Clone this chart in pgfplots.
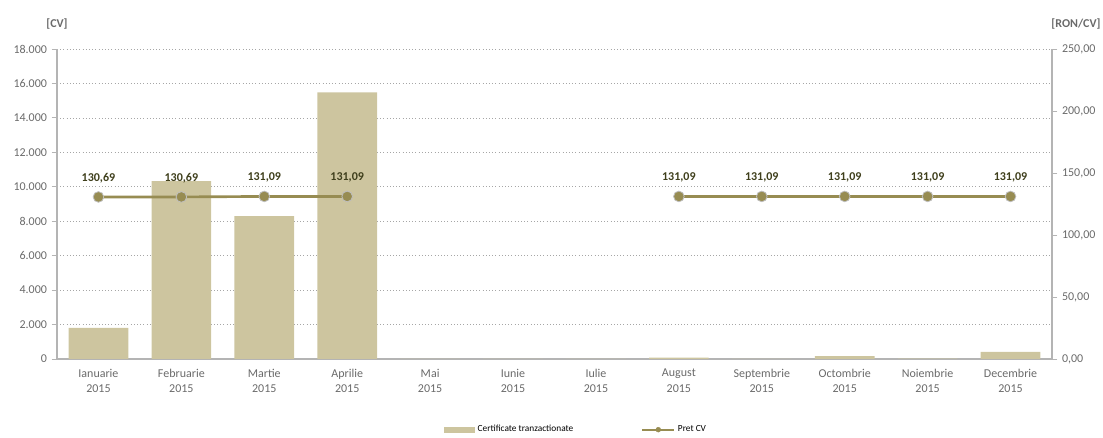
\documentclass[border=0pt]{standalone}
\usepackage{pgfplots}
\pgfplotsset{compat=1.18}
\usepackage{fontspec}
\setmainfont{Carlito}
\definecolor{barc}{HTML}{CDC59F}
\definecolor{linec}{HTML}{978C52}
\definecolor{lblc}{HTML}{3F3F1C}
\definecolor{tickc}{HTML}{6A6A6A}
\definecolor{axc}{HTML}{B4B4B4}
\definecolor{gridc}{HTML}{A6A6A6}
\begin{document}
\begin{tikzpicture}
\path[use as bounding box] (-42.75pt,-59.25pt) rectangle (784.5pt,269.25pt);
\begin{axis}[
  at={(0pt,0pt)}, anchor=south west, scale only axis,
  width=746.25pt, height=232.5pt,
  xmin=-0.5, xmax=11.5, ymin=0, ymax=18000,
  xtick={0,...,11},
  xticklabels={{Ianuarie\\2015},{Februarie\\2015},{Martie\\2015},{Aprilie\\2015},{Mai\\2015},{Iunie\\2015},{Iulie\\2015},{August\\2015},{Septembrie\\2015},{Octombrie\\2015},{Noiembrie\\2015},{Decembrie\\2015}},
  x tick label style={align=center, font=\fontsize{9}{11.5}\selectfont, text=tickc},
  major x tick style={draw=none},
  ytick={0,2000,...,18000},
  y tick label style={font=\fontsize{9}{11}\selectfont, text=tickc},
  yticklabel style={/pgf/number format/.cd, 1000 sep={.}, assume math mode=true},
  scaled y ticks=false,
  ymajorgrids, grid style={gridc, dotted, line width=0.5pt},
  axis y line*=left, axis x line*=bottom,
  axis line style={axc, line width=0.9pt, -},
  tick align=outside, major tick length=4pt,
  y tick style={axc, line width=0.7pt},
  legend columns=2,
  legend style={draw=none, fill=none, font=\fontsize{7}{8}\selectfont,
    at={(axis description cs:0.385,-0.228)}, anchor=west,
    /tikz/every even column/.append style={column sep=49pt}},
]
\addplot[ybar, bar width=0.72, bar shift=0pt, draw=none, fill=barc,
  legend image code/.code={\fill[barc] (0pt,-2.2pt) rectangle (23pt,2.2pt);}]
  coordinates {(0,1800) (1,10330) (2,8300) (3,15480) (4,0) (5,0) (6,0)
               (7,75) (8,0) (9,170) (10,25) (11,420)};
\addlegendentry{Certificate tranzactionate}
\addlegendimage{legend image code/.code={\draw[linec, line width=1.5pt] (0pt,0pt) -- (24pt,0pt); \fill[linec] (12pt,0pt) circle (1.8pt);}}
\addlegendentry{Pret CV}
\end{axis}
\begin{axis}[
  at={(0pt,0pt)}, anchor=south west, scale only axis,
  width=746.25pt, height=232.5pt,
  xmin=-0.5, xmax=11.5, ymin=0, ymax=250,
  axis x line=none, axis y line*=right,
  axis line style={axc, line width=0.9pt, -},
  ytick={0,50,...,250},
  y tick label style={font=\fontsize{9}{11}\selectfont, text=tickc},
  yticklabel style={/pgf/number format/.cd, fixed, fixed zerofill, precision=2, use comma, 1000 sep={}, assume math mode=true},
  tick align=outside, major tick length=4pt,
  y tick style={axc, line width=0.7pt},
  unbounded coords=jump,
]
\addplot[linec, line width=2pt, mark=*, mark size=4pt,
  mark options={fill=linec, draw=gray!50, line width=0.6pt},
  nodes near coords,
  nodes near coords style={font=\bfseries\fontsize{9}{11}\selectfont, text=lblc, yshift=7pt,
    /pgf/number format/.cd, fixed, fixed zerofill, precision=2, use comma, assume math mode=true}]
  coordinates {(0,130.69) (1,130.69) (2,131.09) (3,131.09) (4,nan) (5,nan) (6,nan)
               (7,131.09) (8,131.09) (9,131.09) (10,131.09) (11,131.09)};
\end{axis}
\node[font=\bfseries\fontsize{9}{11}\selectfont, text=tickc] at (0pt,251.25pt) {[CV]};
\node[font=\bfseries\fontsize{9}{11}\selectfont, text=tickc] at (764.25pt,251.25pt) {[RON/CV]};
\end{tikzpicture}
\end{document}
